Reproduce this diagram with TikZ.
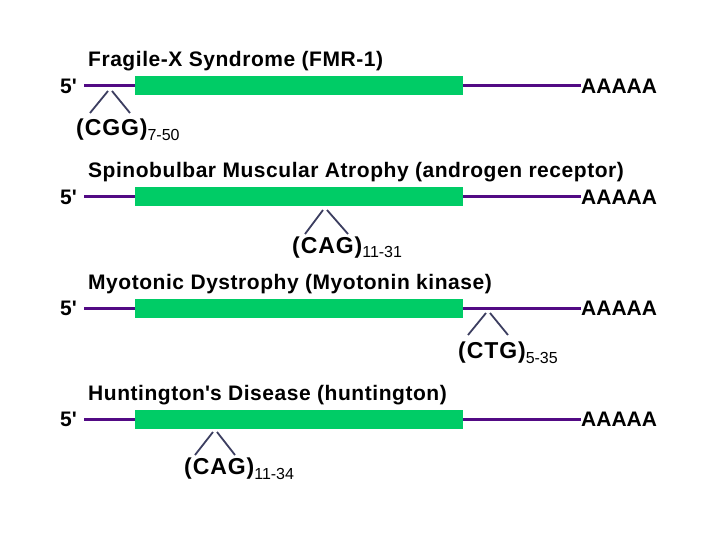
\documentclass[tikz,border=0pt]{standalone}
\usepackage{fontspec}
\setmainfont{Liberation Sans}
\usepackage{tikz}
\usetikzlibrary{positioning}
\definecolor{mrnapurple}{RGB}{82,10,132}
\definecolor{genegreen}{RGB}{0,204,102}
\definecolor{caretgray}{RGB}{60,62,96}
\newcommand{\rpt}[2]{{\fontsize{23}{26}\selectfont\addfontfeature{LetterSpace=4}(#1)}\raisebox{-5pt}{\fontsize{16}{16}\selectfont\mdseries #2}}
\tikzset{
  txt/.style={inner sep=0pt, font=\fontsize{21}{24}\selectfont\bfseries},
  ttl/.style={txt, anchor=base west, font=\fontsize{21}{24}\selectfont\bfseries\addfontfeature{LetterSpace=2.6}},
  mrna/.style={draw=mrnapurple, line width=3pt},
  gene/.style={fill=genegreen, inner sep=0pt, minimum width=328pt, minimum height=19pt},
  caret/.style={draw=caretgray, line width=1.8pt}
}
\begin{document}
\begin{tikzpicture}[x=1pt,y=-1pt]
  \useasboundingbox (0,0) rectangle (720,540);
  % Fragile-X
  \node[ttl] (title1) at (88,67) {Fragile-X Syndrome (FMR-1)};
  \node[txt, anchor=west] (five1) at (60,86) {5\textquotesingle};
  \node[txt, anchor=west] (tail1) at (581,86) {AAAAA};
  \draw[mrna, shorten <=7pt] (five1.east) -- (tail1.west);
  \node[gene] (gene1) at (299,86) {};
  \node[txt, anchor=base west] (rep1) at (76,136) {\rpt{CGG}{7-50}};
  \coordinate (tip1) at (110,91); \coordinate (l1) at (90,113); \coordinate (r1) at (130,113);
  \draw[caret] (l1) -- ([xshift=-2pt]tip1) ([xshift=2pt]tip1) -- (r1);
  % Spinobulbar
  \node[ttl] (title2) at (88,178) {Spinobulbar Muscular Atrophy (androgen receptor)};
  \node[txt, anchor=west] (five2) at (60,197) {5\textquotesingle};
  \node[txt, anchor=west] (tail2) at (581,197) {AAAAA};
  \draw[mrna, shorten <=7pt] (five2.east) -- (tail2.west);
  \node[gene] (gene2) at (299,197) {};
  \node[txt, anchor=base west] (rep2) at (292,253) {\rpt{CAG}{11-31}};
  \coordinate (tip2) at (325,210); \coordinate (l2) at (305,234); \coordinate (r2) at (348,234);
  \draw[caret] (l2) -- ([xshift=-2pt]tip2) ([xshift=2pt]tip2) -- (r2);
  % Myotonic
  \node[ttl] (title3) at (88,289) {Myotonic Dystrophy (Myotonin kinase)};
  \node[txt, anchor=west] (five3) at (60,308) {5\textquotesingle};
  \node[txt, anchor=west] (tail3) at (581,308) {AAAAA};
  \draw[mrna, shorten <=7pt] (five3.east) -- (tail3.west);
  \node[gene] (gene3) at (299,308) {};
  \node[txt, anchor=base west] (rep3) at (458,358) {\rpt{CTG}{5-35}};
  \coordinate (tip3) at (488,313); \coordinate (l3) at (468,335); \coordinate (r3) at (508,335);
  \draw[caret] (l3) -- ([xshift=-2pt]tip3) ([xshift=2pt]tip3) -- (r3);
  % Huntington
  \node[ttl] (title4) at (88,400) {Huntington\textquotesingle s Disease (huntington)};
  \node[txt, anchor=west] (five4) at (60,419) {5\textquotesingle};
  \node[txt, anchor=west] (tail4) at (581,419) {AAAAA};
  \draw[mrna, shorten <=7pt] (five4.east) -- (tail4.west);
  \node[gene] (gene4) at (299,419) {};
  \node[txt, anchor=base west] (rep4) at (184,474) {\rpt{CAG}{11-34}};
  \coordinate (tip4) at (215,432); \coordinate (l4) at (195,455); \coordinate (r4) at (235,455);
  \draw[caret] (l4) -- ([xshift=-2pt]tip4) ([xshift=2pt]tip4) -- (r4);
\end{tikzpicture}
\end{document}
